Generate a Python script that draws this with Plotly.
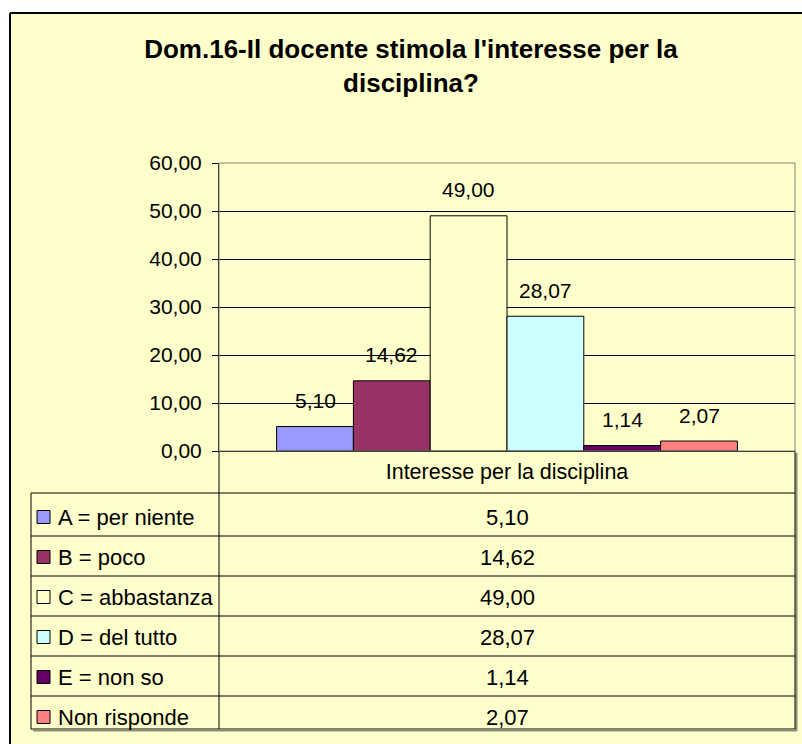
import plotly.graph_objects as go

# data
category = "Interesse per la disciplina"
labels = ["A = per niente", "B = poco", "C = abbastanza", "D = del tutto", "E = non so", "Non risponde"]
values = [5.10, 14.62, 49.00, 28.07, 1.14, 2.07]
colors = ["#9999FF", "#993366", "#FFFFCC", "#CCFFFF", "#660066", "#FF8080"]
title = "Dom.16-Il docente stimola l'interesse per la<br>disciplina?"

W, H = 802, 744
# plot area in page pixels
L, R, T, B = 219, 795, 163, 451
FONT = "Arial, Liberation Sans, sans-serif"
BG = "#FFFFCC"


def px(x):
    return (x - L) / (R - L)


def py(y):
    return (B - y) / (B - T)


def fmt(v):
    return f"{v:.2f}".replace(".", ",")


fig = go.Figure()
for name, v, c in zip(labels, values, colors):
    fig.add_trace(go.Bar(
        x=[category], y=[v], name=name,
        marker=dict(color=c, line=dict(color="black", width=1)),
        showlegend=False, hoverinfo="y+name",
    ))

# value labels above bars (grouped offsets on the category axis)
n = len(values)
bargap = 0.2
bw = (1 - bargap) / n
annotations = []
for i, v in enumerate(values):
    annotations.append(dict(
        x=-(1 - bargap) / 2 + (i + 0.5) * bw, y=v, xref="x", yref="y",
        text=fmt(v), showarrow=False, yshift=26, yanchor="middle",
        font=dict(size=21, color="black", family=FONT),
    ))

shapes = []
# chart background with top/left border (cropped on right and bottom)
shapes.append(dict(type="rect", xref="paper", yref="paper", layer="below",
                   x0=px(10), x1=px(W + 5), y0=py(H + 5), y1=py(13),
                   fillcolor=BG, line=dict(width=0)))
shapes.append(dict(type="line", xref="paper", yref="paper",
                   x0=px(10), x1=px(W + 5), y0=py(13), y1=py(13),
                   line=dict(color="black", width=2)))
shapes.append(dict(type="line", xref="paper", yref="paper",
                   x0=px(10), x1=px(10), y0=py(13), y1=py(H + 5),
                   line=dict(color="black", width=2)))

# data table
row0 = 517
row_h = 40
tbl_top, tbl_bot = 493, 729
tbl_left = 31
line_ys = [tbl_top] + [row0 + 19 + k * row_h for k in range(n - 1)] + [tbl_bot]
for y in line_ys:
    shapes.append(dict(type="line", xref="paper", yref="paper",
                       x0=px(tbl_left), x1=px(R), y0=py(y), y1=py(y),
                       line=dict(color="black", width=1)))
# shadow
shapes.append(dict(type="line", xref="paper", yref="paper",
                   x0=px(tbl_left + 2), x1=px(R + 2), y0=py(tbl_bot + 1.5), y1=py(tbl_bot + 1.5),
                   line=dict(color="#8c8c7a", width=2)))
shapes.append(dict(type="line", xref="paper", yref="paper",
                   x0=px(R + 1.5), x1=px(R + 1.5), y0=py(B + 2), y1=py(tbl_bot + 2),
                   line=dict(color="#8c8c7a", width=2)))
for x, y0 in [(tbl_left, tbl_top), (L, B), (R, B)]:
    shapes.append(dict(type="line", xref="paper", yref="paper",
                       x0=px(x), x1=px(x), y0=py(y0), y1=py(tbl_bot),
                       line=dict(color="black", width=1)))

for i, (name, v, c) in enumerate(zip(labels, values, colors)):
    yc = row0 + i * row_h
    shapes.append(dict(type="rect", xref="paper", yref="paper",
                       x0=px(37), x1=px(50), y0=py(yc + 6.5), y1=py(yc - 6.5),
                       fillcolor=c, line=dict(color="black", width=1)))
    annotations.append(dict(x=px(56), y=py(yc), xref="paper", yref="paper",
                            text=name, showarrow=False, xanchor="left", yanchor="middle",
                            font=dict(size=22, color="black", family=FONT)))
    annotations.append(dict(x=px((L + R) / 2), y=py(yc), xref="paper", yref="paper",
                            text=fmt(v), showarrow=False, xanchor="center", yanchor="middle",
                            font=dict(size=22, color="black", family=FONT)))

# plot area border
shapes.append(dict(type="rect", xref="paper", yref="paper",
                   x0=0, x1=1, y0=0, y1=1, line=dict(color="#808080", width=1)))

fig.update_layout(
    width=W, height=H,
    margin=dict(l=L, r=W - R, t=T, b=H - B, pad=0),
    paper_bgcolor="white",
    plot_bgcolor="#C0C0C0",
    separators=",.",
    barmode="group", bargap=bargap, bargroupgap=0,
    title=dict(text="<b>" + title + "</b>", x=411 / W, xanchor="center",
               y=1 - 58 / H, yanchor="middle",
               font=dict(size=26, color="black", family=FONT)),
    font=dict(family=FONT, color="black"),
    shapes=shapes,
    annotations=annotations,
)
fig.update_yaxes(range=[0, 60], dtick=10, tickformat=".2f",
                 showgrid=True, gridcolor="black", gridwidth=1,
                 showline=True, linecolor="black", linewidth=1,
                 ticks="outside", ticklen=6, tickcolor="black",
                 ticklabelstandoff=6, zeroline=False,
                 tickfont=dict(size=21, color="black", family=FONT))
fig.update_xaxes(showline=True, linecolor="black", linewidth=1, ticks="",
                 ticklabelstandoff=1,
                 tickfont=dict(size=21.5, color="black", family=FONT))

# drop the default page margin so the figure sits at the window origin
fig.write_html("out.html", config={"displayModeBar": False},
               post_script="document.body.style.margin='0';document.body.style.overflow='hidden';")
